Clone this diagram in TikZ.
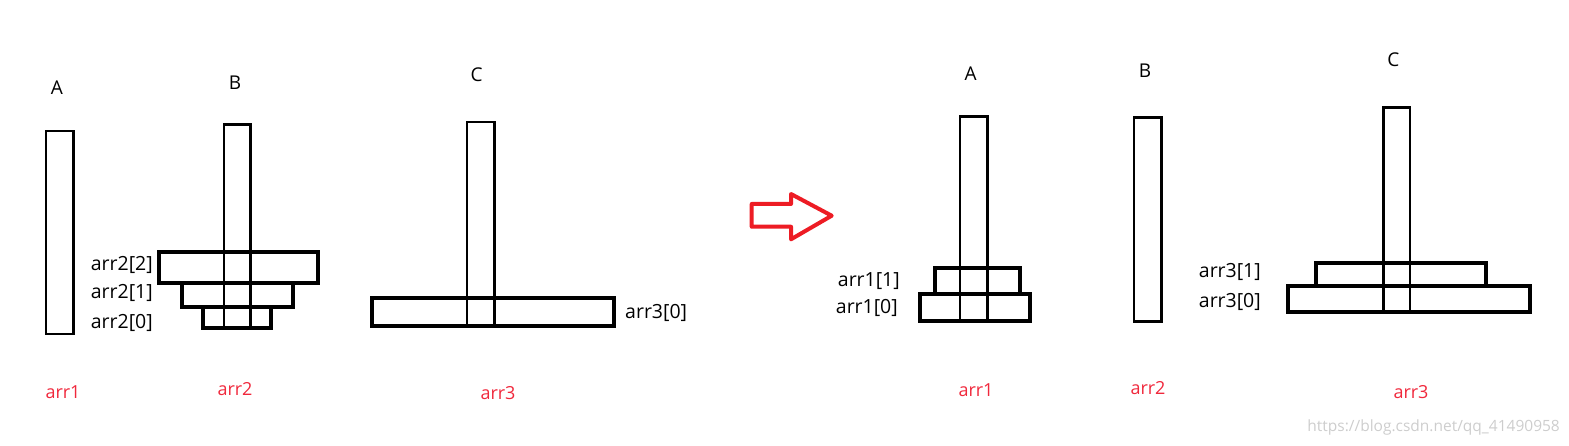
\documentclass[tikz,border=0pt]{standalone}
\usepackage{fontspec}
\setmainfont{Open Sans}
\usetikzlibrary{positioning}
\definecolor{arrred}{RGB}{240,40,60}
\definecolor{paintred}{RGB}{237,28,36}
\definecolor{wmgray}{RGB}{205,205,205}
\tikzset{
  pegbox/.style={draw=black, line width=2.5pt},
  diskbox/.style={draw=black, line width=3.8pt},
  pegname/.style={font=\fontsize{19}{21}\selectfont, inner sep=0pt},
  disklabel/.style={font=\fontsize{19.5}{22}\selectfont, inner sep=0pt},
  arrname/.style={font=\fontsize{18}{20}\selectfont, text=arrred, inner sep=0pt},
  movearrow/.style={draw=paintred, line width=4pt, line join=round}
}
\begin{document}
\begin{tikzpicture}[x=1pt, y=-1pt]
  \useasboundingbox (0,0) rectangle (1569,446);

  % before the move
  \draw[diskbox] (159.3,251.7) rectangle (318,282.7);
  \draw[diskbox] (182.3,282.7) rectangle (292.7,306.7);
  \draw[diskbox] (203.3,306.7) rectangle (270.7,328);
  \draw[diskbox] (372.3,297.7) rectangle (614.3,325.7);
  \draw[pegbox] (46,131) rectangle (73.5,334);
  \draw[pegbox] (224,124.3) rectangle (250.7,328);
  \draw[pegbox] (467,122) rectangle (494.3,325.7);

  \node[pegname] (a1) at (57,88) {A};
  \node[pegname] (b1) at (235,83) {B};
  \node[pegname] (c1) at (476.7,75) {C};

  \node[disklabel, anchor=east] (d22) at (153,265) {arr2[2]};
  \node[disklabel, anchor=east] (d21) at (153,293) {arr2[1]};
  \node[disklabel, anchor=east] (d20) at (153,323) {arr2[0]};
  \node[disklabel, anchor=west] (d30) at (625,313) {arr3[0]};

  \node[arrname] (n1) at (63,392) {arr1};
  \node[arrname] (n2) at (235,389) {arr2};
  \node[arrname] (n3) at (498,393) {arr3};

  % arrow
  \draw[movearrow] (751.7,204) -- (791,204) -- (791,194) -- (831.7,215.7)
    -- (791,239.3) -- (791,226.7) -- (751.7,226.7) -- cycle;

  % after the move
  \draw[diskbox] (935,268.3) rectangle (1020,294.3);
  \draw[diskbox] (920,294.3) rectangle (1030,320.7);
  \draw[diskbox] (1315.7,262.7) rectangle (1486,286);
  \draw[diskbox] (1288.3,286) rectangle (1530,311.7);
  \draw[pegbox] (960,116.7) rectangle (987.7,320.7);
  \draw[pegbox] (1134,117.7) rectangle (1161.7,321.7);
  \draw[pegbox] (1383.3,107.7) rectangle (1410,311.7);

  \node[pegname] (a2) at (970.7,73.3) {A};
  \node[pegname] (b2) at (1145,70.7) {B};
  \node[pegname] (c2) at (1393.3,60) {C};

  \node[disklabel, anchor=east] (d11) at (900,281) {arr1[1]};
  \node[disklabel, anchor=east] (d10) at (898,308.3) {arr1[0]};
  \node[disklabel, anchor=east] (d31) at (1261,272.3) {arr3[1]};
  \node[disklabel, anchor=east] (d30b) at (1261,301.7) {arr3[0]};

  \node[arrname] (m1) at (976,390) {arr1};
  \node[arrname] (m2) at (1148,388.3) {arr2};
  \node[arrname] (m3) at (1411,391.7) {arr3};

  \node[font=\fontsize{15.5}{17}\selectfont, text=wmgray, inner sep=0pt, anchor=east] (wm) at (1560,427) {https://blog.csdn.net/qq\_41490958};
\end{tikzpicture}
\end{document}
